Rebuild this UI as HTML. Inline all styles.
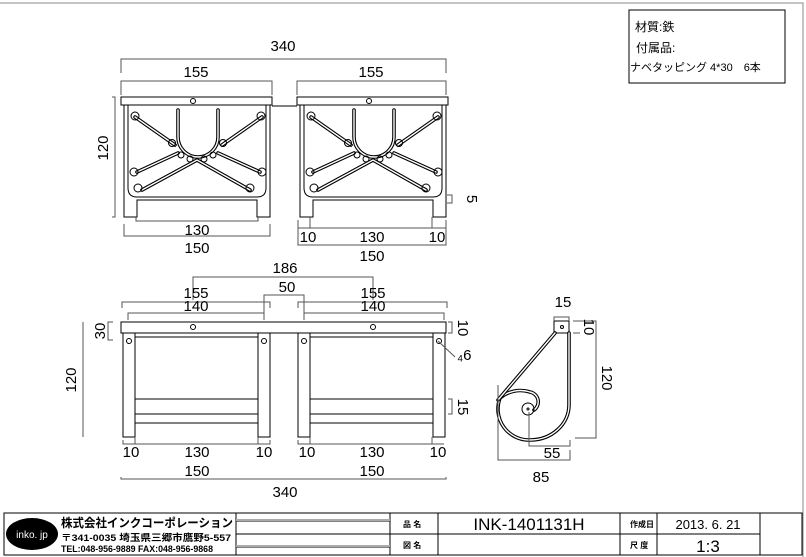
<!DOCTYPE html>
<html><head><meta charset="utf-8"><style>
body{margin:0;background:#fff}
svg{display:block}
text{font-family:"Liberation Sans","Noto Sans CJK JP",sans-serif;fill:#000}
.d{stroke:#555;stroke-width:1;fill:none}
.t{font-size:15px;text-anchor:middle}
.k{stroke:#000;fill:none;stroke-width:1}
.w{stroke:#000;stroke-width:3.6;fill:none;stroke-linecap:round}
.wi{stroke:#fff;stroke-width:1.4;fill:none;stroke-linecap:round}
</style></head><body>
<svg width="806" height="557" viewBox="0 0 806 557">
<defs>
<g id="fw">
 <path d="M135,117 L175,145 M262,117 L222,145 M137,172 L178,153 M260,172 L218,153 M142,190 L197,160 L250,190 M178,110 L178,137 A20,20 0 0 0 218,137 L218,110" class="w"/>
 <path d="M135,117 L175,145 M262,117 L222,145 M137,172 L178,153 M260,172 L218,153 M142,190 L197,160 L250,190 M178,110 L178,137 A20,20 0 0 0 218,137 L218,110" class="wi"/>
 <g class="k" stroke-width="1.4">
  <circle cx="135" cy="116" r="4"/><circle cx="261" cy="116" r="4"/>
  <circle cx="134" cy="172" r="4"/><circle cx="262" cy="172" r="4"/>
  <circle cx="138" cy="188" r="4"/><circle cx="250" cy="188" r="4"/>
  <circle cx="172" cy="143" r="3.5"/><circle cx="223" cy="143" r="3.5"/>
  <circle cx="181" cy="155" r="3"/><circle cx="190" cy="159" r="3"/>
  <circle cx="204" cy="159" r="3"/><circle cx="213" cy="155" r="3"/>
 </g>
</g>
<g id="top">
 <rect x="121" y="97" width="151" height="8" class="k" fill="#fff"/>
 <circle cx="193" cy="101" r="2.5" class="k"/>
 <path d="M124,105 L124,217 L137,217 L137,200 L257,200 L257,217 L270,217 L270,105" class="k"/>
 <path d="M128,105 L128,188 Q128,197 137,197 L257,197 Q266,197 266,188 L266,105" class="k"/>
 <use href="#fw"/>
</g>
<g id="front">
 <path d="M123,333 L123,437 L135,437 L135,333 M258,333 L258,437 L270,437 L270,333" class="k"/>
 <circle cx="129" cy="341" r="2.5" class="k"/><circle cx="264" cy="341" r="2.5" class="k"/>
 <path d="M135,337 L258,337 M135,399 L258,399 M135,414 L258,414 M135,423 L258,423" class="k"/>
</g>
</defs>

<path d="M0,3 L803,3 L803,557" stroke="#888" fill="none"/>

<rect x="629" y="10" width="156" height="73" class="k" stroke-width="1.2"/>
<text x="635" y="31" font-size="12">材質:鉄</text>
<text x="636" y="52" font-size="12">付属品:</text>
<text x="630" y="71" font-size="11">ナベタッピング 4*30　6本</text>

<use href="#top"/>
<use href="#top" transform="translate(176,0)"/>
<path d="M272,106 L297,106" class="k"/>
<path class="d" d="M121,73 L121,59 L446,59 L446,73 M121,95 L121,81 L272,81 L272,95 M297,95 L297,81 L446,81 L446,95 M112,97 L115,97 L115,217 L112,217 M136,217 L136,221 L258,221 L258,217 M124,224 L124,236 L270,236 L270,224 M298,220 L298,245 L446,245 L446,220 M298,228 L446,228 M310,217 L310,228 M432,217 L432,228 M447,195 L452,195 L452,203 L447,203"/>
<text class="t" x="283" y="51">340</text>
<text class="t" x="196" y="77">155</text>
<text class="t" x="371" y="77">155</text>
<text class="t" transform="translate(108,148) rotate(-90)">120</text>
<text class="t" x="197" y="235">130</text>
<text class="t" x="197" y="253">150</text>
<text class="t" x="308" y="242">10</text>
<text class="t" x="372" y="242">130</text>
<text class="t" x="437" y="242">10</text>
<text class="t" x="372" y="261">150</text>
<text class="t" transform="translate(467,199) rotate(90)">5</text>

<rect x="121" y="322" width="325" height="11" class="k"/>
<circle cx="193" cy="327" r="2.5" class="k"/><circle cx="373" cy="327" r="2.5" class="k"/>
<use href="#front"/>
<use href="#front" transform="translate(175,0)"/>
<path class="d" d="M193,300 L193,277 L373,277 L373,300 M122,308 L122,302 L270,302 L270,308 M298,308 L298,302 L447,302 L447,308 M264,320 L264,295 L304,295 L304,320 M128,320 L128,313 L264,313 M304,320 L304,313 L444,313 L444,320 M113,322 L108,322 L108,340 L113,340 M448,322 L452,322 L452,333 L448,333 M448,399 L452,399 L452,414 L448,414 M123,440 L123,444 L270,444 L270,440 M298,440 L298,444 L444,444 M121,477 L121,479 L446,479 L446,477 M135,437 L135,444 M258,437 L258,444 M310,437 L310,444 M432,437 L432,444 M83,322 L83,437 M438,341 L455,357"/>
<text class="t" x="285" y="273">186</text>
<text class="t" x="196" y="298">155</text>
<text class="t" x="287" y="292">50</text>
<text class="t" x="373" y="298">155</text>
<text class="t" x="196" y="311">140</text>
<text class="t" x="373" y="311">140</text>
<text class="t" transform="translate(105,331) rotate(-90)">30</text>
<text class="t" transform="translate(458,328) rotate(90)">10</text>
<text x="457" y="360" font-size="15">₄6</text>
<text class="t" transform="translate(458,407) rotate(90)">15</text>
<text class="t" transform="translate(76,380) rotate(-90)">120</text>
<text class="t" x="131" y="457">10</text>
<text class="t" x="197" y="457">130</text>
<text class="t" x="264" y="457">10</text>
<text class="t" x="307" y="457">10</text>
<text class="t" x="372" y="457">130</text>
<text class="t" x="438" y="457">10</text>
<text class="t" x="197" y="476">150</text>
<text class="t" x="372" y="476">150</text>
<text class="t" x="285" y="497">340</text>

<rect x="554" y="321" width="15" height="12" class="k"/>
<circle cx="562" cy="327" r="1.5" class="k"/>
<path d="M569,333 L569,405 A39,35 0 0 1 530,440 A31,31 0 0 1 500,398 A30,28 0 0 1 530,392 A10,10 0 0 1 534,410" class="w"/>
<path d="M569,333 L569,405 A39,35 0 0 1 530,440 A31,31 0 0 1 500,398 A30,28 0 0 1 530,392 A10,10 0 0 1 534,410" class="wi"/>
<path d="M555,333 L498,400" class="w"/><path d="M555,333 L498,400" class="wi"/>
<circle cx="528" cy="409" r="6" class="k"/><circle cx="528" cy="409" r="1" class="k"/>
<path class="d" d="M554,321 L554,317 L569,317 L569,321 M573,321 L596,321 L596,438 L575,438 M573,333 L580,333 M529,412 L529,446 L570,446 L570,440 M498,385 L498,460 L570,460 L570,450"/>
<text class="t" x="563" y="307">15</text>
<text class="t" transform="translate(584,327) rotate(90)">10</text>
<text class="t" transform="translate(602,378) rotate(90)">120</text>
<text class="t" x="552" y="458">55</text>
<text class="t" x="541" y="482">85</text>

<rect x="4" y="513" width="798" height="42" class="k" stroke="#444"/>
<path class="k" stroke="#444" d="M236,513 L236,555 M390,513 L390,555 M438,513 L438,555 M620,513 L620,555 M657,513 L657,555 M760,513 L760,555 M390,534 L760,534 M236,521 L390,521 M236,534 L390,534 M236,547 L390,547"/>
<path d="M236,520 L390,520 M236,546 L390,546" stroke="#aaa" stroke-width="2"/>
<ellipse cx="32" cy="534" rx="26" ry="16" fill="#000"/>
<text x="32" y="538" font-size="10" text-anchor="middle" style="fill:#fff">inko. jp</text>
<text x="61" y="527" font-size="12" font-weight="bold" textLength="172" lengthAdjust="spacingAndGlyphs">株式会社インクコーポレーション</text>
<text x="61" y="541" font-size="9.5" font-weight="bold" textLength="170" lengthAdjust="spacingAndGlyphs">〒341-0035 埼玉県三郷市鷹野5-557</text>
<text x="61" y="552" font-size="9.5" font-weight="bold" textLength="152" lengthAdjust="spacingAndGlyphs">TEL:048-956-9889  FAX:048-956-9868</text>
<text x="403" y="527" font-size="8" font-weight="bold">品 名</text>
<text x="403" y="548" font-size="8" font-weight="bold">図 名</text>
<text x="529" y="530" font-size="17" text-anchor="middle">INK-1401131H</text>
<text x="630" y="527" font-size="8" font-weight="bold">作成日</text>
<text x="630" y="548" font-size="8" font-weight="bold">尺 度</text>
<text x="708" y="529" font-size="13" text-anchor="middle">2013. 6. 21</text>
<text x="708" y="552" font-size="17" text-anchor="middle">1:3</text>
</svg>
</body></html>
